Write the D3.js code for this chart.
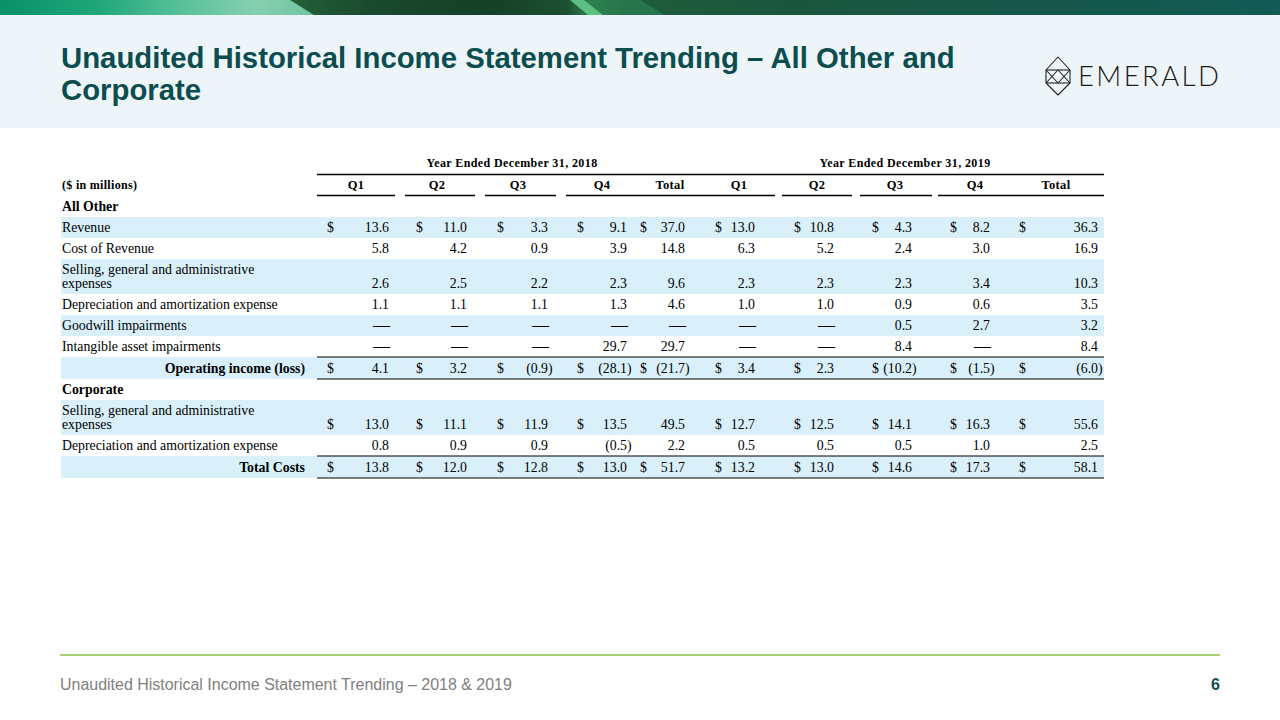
<!DOCTYPE html>
<html><head><meta charset="utf-8">
<script src="https://cdn.jsdelivr.net/npm/d3@7"></script>
<style>html,body{margin:0;padding:0;background:#fff;}svg{display:block;}</style>
</head><body>
<div id="chart"></div>
<script>
// ---------- DATA ----------
const titleLines = ["Unaudited Historical Income Statement Trending \u2013 All Other and", "Corporate"];
const footerText = "Unaudited Historical Income Statement Trending \u2013 2018 & 2019";
const pageNumber = "6";
const yearHeaders = ["Year Ended December 31, 2018", "Year Ended December 31, 2019"];
const columnLabels = ["Q1", "Q2", "Q3", "Q4", "Total", "Q1", "Q2", "Q3", "Q4", "Total"];
const unitLabel = "($ in millions)";
const sectionLabels = ["All Other", "Corporate"];

const revenue         = [13.6, 11.0, 3.3, 9.1, 37.0, 13.0, 10.8, 4.3, 8.2, 36.3];
const costOfRevenue   = [5.8, 4.2, 0.9, 3.9, 14.8, 6.3, 5.2, 2.4, 3.0, 16.9];
const sgaOther        = [2.6, 2.5, 2.2, 2.3, 9.6, 2.3, 2.3, 2.3, 3.4, 10.3];
const daOther         = [1.1, 1.1, 1.1, 1.3, 4.6, 1.0, 1.0, 0.9, 0.6, 3.5];
const goodwillImp     = [null, null, null, null, null, null, null, 0.5, 2.7, 3.2];
const intangibleImp   = [null, null, null, 29.7, 29.7, null, null, 8.4, null, 8.4];
const operatingIncome = [4.1, 3.2, -0.9, -28.1, -21.7, 3.4, 2.3, -10.2, -1.5, -6.0];
const sgaCorporate    = [13.0, 11.1, 11.9, 13.5, 49.5, 12.7, 12.5, 14.1, 16.3, 55.6];
const daCorporate     = [0.8, 0.9, 0.9, -0.5, 2.2, 0.5, 0.5, 0.5, 1.0, 2.5];
const totalCosts      = [13.8, 12.0, 12.8, 13.0, 51.7, 13.2, 13.0, 14.6, 17.3, 58.1];

const dollarsAll  = [1,1,1,1,1,1,1,1,1,1];
const dollarsNone = [0,0,0,0,0,0,0,0,0,0];
const dollarsCorp = [1,1,1,1,0,1,1,1,1,1];

const rows = [
  {type:"section", label: sectionLabels[0]},
  {type:"line",  label:"Revenue", values: revenue, dollars: dollarsAll, shade:true},
  {type:"line",  label:"Cost of Revenue", values: costOfRevenue, dollars: dollarsNone, shade:false},
  {type:"line2", label:["Selling, general and administrative","expenses"], values: sgaOther, dollars: dollarsNone, shade:true},
  {type:"line",  label:"Depreciation and amortization expense", values: daOther, dollars: dollarsNone, shade:false},
  {type:"line",  label:"Goodwill impairments", values: goodwillImp, dollars: dollarsNone, shade:true},
  {type:"line",  label:"Intangible asset impairments", values: intangibleImp, dollars: dollarsNone, shade:false},
  {type:"total", label:"Operating income (loss)", values: operatingIncome, dollars: dollarsAll, shade:true},
  {type:"section", label: sectionLabels[1]},
  {type:"line2", label:["Selling, general and administrative","expenses"], values: sgaCorporate, dollars: dollarsCorp, shade:true},
  {type:"line",  label:"Depreciation and amortization expense", values: daCorporate, dollars: dollarsNone, shade:false},
  {type:"total", label:"Total Costs", values: totalCosts, dollars: dollarsAll, shade:true}
];

// ---------- LAYOUT ----------
const W = 1280, H = 720;
const colIdx = d3.range(columnLabels.length);
const tableLeft = 61, tableRight = 1104, numLeft = 317;
const xDollar = d3.scaleOrdinal().domain(colIdx).range([327, 416, 497, 577, 640, 715, 794, 872, 950, 1019]);
const xValue  = d3.scaleOrdinal().domain(colIdx).range([389, 467, 548, 627, 685, 755, 834, 912, 990, 1098]);
const xHead   = d3.scaleOrdinal().domain(colIdx).range([356, 437, 518, 602, 670, 739, 817, 895, 975, 1056]);
const underlineSegs = [[317,395],[405,475],[485,556],[566,775],[782,852],[860,932],[938,1104]];
const yearCenters = [512, 905];
const rowHeight = {section:21, line:21, line2:35, total:22};
const tableTop = 196;
const bodySize = 13.8;

const serif = "'Liberation Serif','Times New Roman',serif";
const sans = "'Liberation Sans',Arial,sans-serif";

const svg = d3.select("#chart").append("svg").attr("width", W).attr("height", H);
svg.append("rect").attr("width", W).attr("height", H).attr("fill", "#fff");

// ---------- BANNER ----------
const defs = svg.append("defs");
const g1 = defs.append("linearGradient").attr("id","bg1").attr("gradientUnits","userSpaceOnUse").attr("x1",0).attr("x2",320).attr("y1",0).attr("y2",0);
[[0,"#0b9066"],[0.3,"#1ea679"],[0.55,"#55bf98"],[0.8,"#86d0b1"],[1,"#6cc2a0"]].forEach(s=>g1.append("stop").attr("offset",s[0]).attr("stop-color",s[1]));
const g2 = defs.append("linearGradient").attr("id","bg2").attr("gradientUnits","userSpaceOnUse").attr("x1",290).attr("x2",1280).attr("y1",0).attr("y2",0);
[[0,"#25603a"],[0.08,"#1a4a2d"],[0.2,"#163f27"],[0.28,"#1b5030"],[0.3,"#2f7a4c"],[0.34,"#1e5d3c"],[0.5,"#1a563d"],[0.75,"#16584a"],[1,"#115a55"]].forEach(s=>g2.append("stop").attr("offset",s[0]).attr("stop-color",s[1]));
svg.append("rect").attr("x",0).attr("y",0).attr("width",W).attr("height",15).attr("fill","url(#bg1)");
svg.append("polygon").attr("points","290,0 1280,0 1280,15 314,15").attr("fill","url(#bg2)");
svg.append("polygon").attr("points","570,0 584,0 603,15 588,15").attr("fill","#62c98a").attr("opacity",0.9);
svg.append("polygon").attr("points","584,0 640,0 665,15 603,15").attr("fill","#2e8a58").attr("opacity",0.55);

svg.append("rect").attr("x",0).attr("y",15).attr("width",W).attr("height",113).attr("fill","#eef5f8");

// title
const titleG = svg.append("g");
const t1 = titleG.append("text").attr("x",61).attr("y",68).attr("font-family",sans).attr("font-weight","bold")
  .attr("font-size",26).attr("fill","#0c4d50").text(titleLines[0]);
const measured = t1.node().getComputedTextLength();
const titleSize = 26 * 894 / measured;
t1.attr("font-size", titleSize);
titleG.append("text").attr("x",61).attr("y",100).attr("font-family",sans).attr("font-weight","bold")
  .attr("font-size",titleSize).attr("fill","#0c4d50").text(titleLines[1]);

// logo
const logo = svg.append("g").attr("stroke","#222").attr("stroke-width",1.1).attr("fill","none").attr("stroke-linejoin","round");
logo.append("polygon").attr("points","1058,57 1070,70 1058,83 1046,70");
logo.append("polygon").attr("points","1058,70 1070,83 1058,95 1046,83");
logo.append("line").attr("x1",1046).attr("y1",70).attr("x2",1070).attr("y2",70);
logo.append("line").attr("x1",1046).attr("y1",83).attr("x2",1070).attr("y2",83);
logo.append("line").attr("x1",1046).attr("y1",70).attr("x2",1046).attr("y2",83);
logo.append("line").attr("x1",1070).attr("y1",70).attr("x2",1070).attr("y2",83);
const lt = svg.append("text").attr("x",1078).attr("y",86).attr("font-family","Lato,'Open Sans',sans-serif")
  .attr("font-weight",300).attr("font-size",27.5).attr("fill","#1a1a1a").text("EMERALD");
const ltw = lt.node().getComputedTextLength();
lt.attr("letter-spacing", Math.max(0,(142 - ltw)/6.5));

// ---------- TABLE HEADER ----------
const hdr = svg.append("g").attr("font-family",serif).attr("font-weight","bold").attr("font-size",12).attr("fill","#000");
hdr.selectAll("text.year").data(yearHeaders).join("text").attr("class","year")
  .attr("x",(d,i)=>yearCenters[i]).attr("y",167).attr("text-anchor","middle").attr("letter-spacing",0.4).text(d=>d);
svg.append("line").attr("x1",numLeft).attr("x2",tableRight).attr("y1",174.5).attr("y2",174.5).attr("stroke","#000").attr("stroke-width",1.3);
hdr.append("text").attr("x",62).attr("y",189).attr("letter-spacing",0.3).text(unitLabel);
hdr.selectAll("text.col").data(columnLabels).join("text").attr("class","col")
  .attr("x",(d,i)=>xHead(i)).attr("y",189).attr("text-anchor","middle").attr("letter-spacing",0.3).attr("font-size",12.5).text(d=>d);
svg.selectAll("line.ul").data(underlineSegs).join("line").attr("class","ul")
  .attr("x1",d=>d[0]).attr("x2",d=>d[1]).attr("y1",195.5).attr("y2",195.5).attr("stroke","#000").attr("stroke-width",1.3);

// ---------- TABLE BODY ----------
let y = tableTop;
rows.forEach(r => { r.top = y; r.h = rowHeight[r.type]; y += r.h; });

const body = svg.append("g").attr("font-family",serif).attr("font-size",bodySize).attr("fill","#000");
rows.forEach(r => {
  const g = body.append("g");
  if (r.shade) g.append("rect").attr("x",tableLeft).attr("y",r.top).attr("width",tableRight-tableLeft).attr("height",r.h).attr("fill","#d9f0fa");
  const baseY = r.type === "line2" ? r.top + r.h - 6 : r.top + r.h/2 + 4.7;
  if (r.type === "section") {
    g.append("text").attr("x",62).attr("y",baseY).attr("font-weight","bold").text(r.label);
    return;
  }
  if (r.type === "line2") {
    g.append("text").attr("x",62).attr("y",r.top + 15).text(r.label[0]);
    g.append("text").attr("x",62).attr("y",baseY).text(r.label[1]);
  } else if (r.type === "total") {
    g.append("text").attr("x",305).attr("y",baseY).attr("text-anchor","end").attr("font-weight","bold").text(r.label);
    g.append("line").attr("x1",numLeft).attr("x2",tableRight).attr("y1",r.top).attr("y2",r.top).attr("stroke","#000").attr("stroke-width",1.2);
    g.append("line").attr("x1",numLeft).attr("x2",tableRight).attr("y1",r.top+r.h).attr("y2",r.top+r.h).attr("stroke","#000").attr("stroke-width",1.2);
  } else {
    g.append("text").attr("x",62).attr("y",baseY).text(r.label);
  }
  r.values.forEach((v,i) => {
    if (r.dollars[i]) g.append("text").attr("x",xDollar(i)).attr("y",baseY).text("$");
    if (v === null) {
      g.append("text").attr("x",xValue(i)+1).attr("y",baseY).attr("text-anchor","end").attr("font-size",17).text("\u2014");
    } else if (v < 0) {
      g.append("text").attr("x",xValue(i)).attr("y",baseY).attr("text-anchor","end").text("(" + d3.format(".1f")(-v));
      g.append("text").attr("x",xValue(i)).attr("y",baseY).text(")");
    } else {
      g.append("text").attr("x",xValue(i)).attr("y",baseY).attr("text-anchor","end").text(d3.format(".1f")(v));
    }
  });
});

// ---------- FOOTER ----------
svg.append("line").attr("x1",60).attr("x2",1220).attr("y1",655).attr("y2",655).attr("stroke","#8dc63f").attr("stroke-width",1.5);
const ft = svg.append("text").attr("x",60).attr("y",690).attr("font-family",sans).attr("font-size",15).attr("fill","#808080").text(footerText);
const ftw = ft.node().getComputedTextLength();
ft.attr("font-size", 15 * 452 / ftw);
svg.append("text").attr("x",1220).attr("y",690).attr("text-anchor","end").attr("font-family",sans).attr("font-weight","bold")
  .attr("font-size",16).attr("fill","#0c4d50").text(pageNumber);
</script>
</body></html>
